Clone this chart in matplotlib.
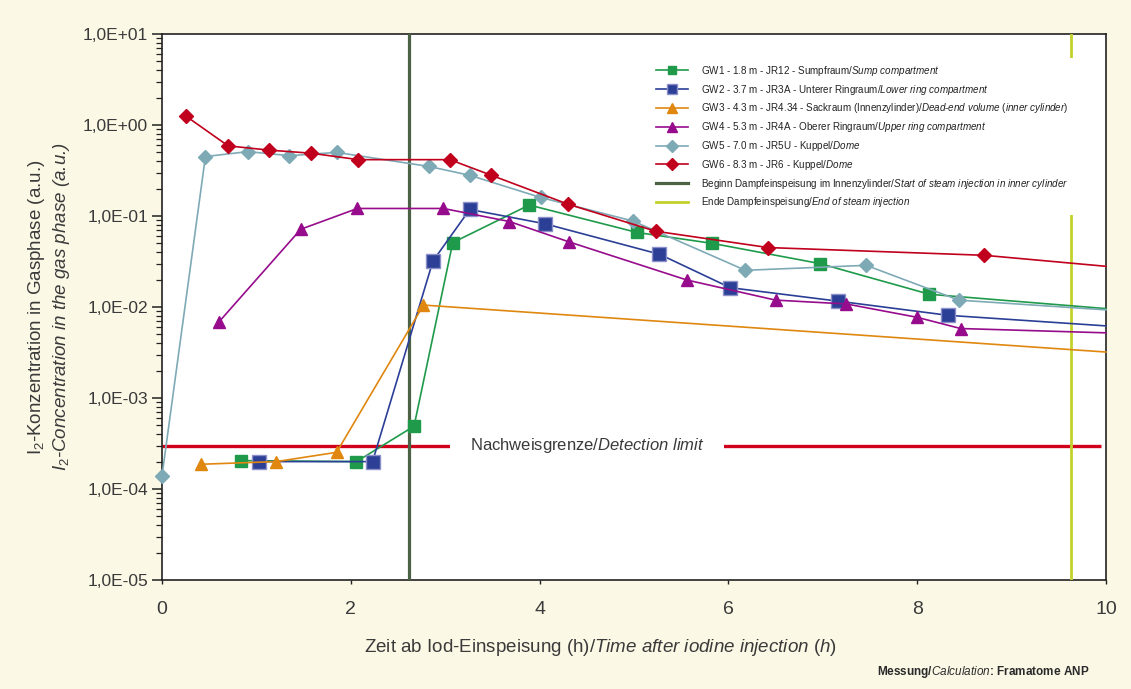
import numpy as np
import matplotlib
matplotlib.use('Agg')
import matplotlib.pyplot as plt
from matplotlib.ticker import LogLocator, FuncFormatter, NullFormatter

plt.rcParams['font.family'] = ['Liberation Sans', 'DejaVu Sans']
plt.rcParams['mathtext.fontset'] = 'custom'
plt.rcParams['mathtext.rm'] = 'Liberation Sans'
plt.rcParams['mathtext.it'] = 'Liberation Sans:italic'

# Messwerte (Zeit in h, Konzentration in a.u.)
t_gw1 = [0.84, 2.06, 2.67, 3.08, 3.89, 5.03, 5.83, 6.97, 8.13, 10.0]
c_gw1 = [2.05e-4, 2.0e-4, 4.9e-4, 0.051, 0.132, 0.066, 0.050, 0.030, 0.0138, 0.0096]

t_gw2 = [1.03, 2.23, 2.87, 3.26, 4.06, 5.27, 6.02, 7.16, 8.33, 10.0]
c_gw2 = [2.0e-4, 2.0e-4, 0.032, 0.118, 0.082, 0.038, 0.0163, 0.0116, 0.0081, 0.0062]

t_gw3 = [0.41, 1.21, 1.85, 2.77, 10.0]
c_gw3 = [1.87e-4, 2.0e-4, 2.53e-4, 0.0105, 0.0032]

t_gw4 = [0.6, 1.47, 2.07, 2.98, 3.68, 4.31, 5.56, 6.50, 7.25, 8.00, 8.46, 10.0]
c_gw4 = [0.0068, 0.0715, 0.121, 0.121, 0.087, 0.052, 0.0198, 0.0119, 0.0108, 0.0077, 0.0058, 0.0052]

t_gw5 = [0.0, 0.46, 0.91, 1.35, 1.85, 2.83, 3.26, 4.01, 4.99, 6.18, 7.46, 8.44, 10.0]
c_gw5 = [1.4e-4, 0.45, 0.51, 0.46, 0.50, 0.35, 0.28, 0.16, 0.088, 0.0253, 0.0287, 0.0119, 0.0093]

t_gw6 = [0.25, 0.70, 1.13, 1.58, 2.08, 3.05, 3.49, 4.30, 5.23, 6.42, 8.71, 10.0]
c_gw6 = [1.26, 0.59, 0.53, 0.49, 0.416, 0.416, 0.28, 0.135, 0.068, 0.045, 0.037, 0.028]

detection_limit = 3.0e-4
t_steam_start = 2.62
t_steam_end = 9.63

labels = [
    'GW1 - 1.8 m - JR12 - Sumpfraum/$\\mathit{Sump\\ compartment}$',
    'GW2 - 3.7 m - JR3A - Unterer Ringraum/$\\mathit{Lower\\ ring\\ compartment}$',
    'GW3 - 4.3 m - JR4.34 - Sackraum (Innenzylinder)/$\\mathit{Dead}$-$\\mathit{end\\ volume\\ (inner\\ cylinder)}$',
    'GW4 - 5.3 m - JR4A - Oberer Ringraum/$\\mathit{Upper\\ ring\\ compartment}$',
    'GW5 - 7.0 m - JR5U - Kuppel/$\\mathit{Dome}$',
    'GW6 - 8.3 m - JR6 - Kuppel/$\\mathit{Dome}$',
    'Beginn Dampfeinspeisung im Innenzylinder/$\\mathit{Start\\ of\\ steam\\ injection\\ in\\ inner\\ cylinder}$',
    'Ende Dampfeinspeisung/$\\mathit{End\\ of\\ steam\\ injection}$',
]

bg = '#fcf8e6'
txt = '#3a3a3a'

fig = plt.figure(figsize=(11.31, 6.89), dpi=100, facecolor=bg)
ax = fig.add_axes([162/1131, 1-580/689, 944/1131, 546/689])
ax.set_facecolor('white')

series = [
    (t_gw1, c_gw1, '#1f9a4a', 's', 8.5, '#1f9a4a'),
    (t_gw2, c_gw2, '#2b3f96', 's', 10, '#8c90c8'),
    (t_gw3, c_gw3, '#e0870f', '^', 9, '#e0870f'),
    (t_gw4, c_gw4, '#960c8c', '^', 9, '#960c8c'),
    (t_gw5, c_gw5, '#7eaab6', 'D', 7.5, '#7eaab6'),
    (t_gw6, c_gw6, '#c0001c', 'D', 7.5, '#c0001c'),
]
handles = []
for (t, c, col, mk, ms, ec), lab in zip(series, labels[:6]):
    # letzter Punkt (Achsenrand) ohne Marker
    h, = ax.plot(t, c, color=col, lw=1.2, marker=mk, ms=ms, mfc=col, mec=ec, mew=1.0,
                 markevery=slice(0, len(t)-1), clip_on=False, zorder=4, label=lab)
    handles.append(h)

h7 = ax.axvline(t_steam_start, color='#4b6344', lw=2.3, zorder=3, label=labels[6])
h8 = ax.axvline(t_steam_end, color='#c3d22b', lw=2.0, zorder=3, label=labels[7])
handles += [h7, h8]

# Nachweisgrenze
ax.hlines(detection_limit, 0, 9.95, color='#d0001a', lw=2.4, zorder=2)
ax.text(4.5, detection_limit, 'Nachweisgrenze/$\\mathit{Detection\\ limit}$', ha='center', va='center',
        fontsize=12, color=txt, zorder=5,
        bbox=dict(facecolor='white', edgecolor='none', pad=14))

ax.set_yscale('log')
ax.set_xlim(0, 10)
ax.set_ylim(1e-5, 10)
ax.set_xticks([0, 2, 4, 6, 8, 10])

def sci_comma(v, pos):
    e = int(np.round(np.log10(v)))
    return '1,0E%+03d' % e

ax.yaxis.set_major_locator(LogLocator(base=10, numticks=10))
ax.yaxis.set_minor_locator(LogLocator(base=10, subs=np.arange(2, 10), numticks=100))
ax.yaxis.set_major_formatter(FuncFormatter(sci_comma))
ax.yaxis.set_minor_formatter(NullFormatter())
ax.tick_params(axis='y', which='major', direction='out', length=7, width=1.1, color='#222222',
               labelsize=12.5, labelcolor=txt, pad=3)
ax.tick_params(axis='y', which='minor', direction='out', length=4, width=0.9, color='#222222')
ax.tick_params(axis='x', which='major', direction='out', length=3, width=1.0, color='#222222',
               labelsize=14, labelcolor=txt, pad=12)
for sp in ax.spines.values():
    sp.set_color('#222222')
    sp.set_linewidth(1.2)

ax.set_xlabel('Zeit ab Iod-Einspeisung (h)/$\\mathit{Time\\ after\\ iodine\\ injection\\ (h)}$',
              fontsize=13.5, color=txt)
ax.xaxis.set_label_coords(0.465, -0.104)

# zweizeilige Y-Beschriftung
fig.text(37/1131, 1-307/689, 'I$_2$-Konzentration in Gasphase (a.u.)', rotation=90,
         ha='center', va='center', fontsize=13.5, color=txt)
fig.text(62/1131, 1-307/689, 'I$_{\\mathit{2}}$-Concentration in the gas phase (a.u.)', rotation=90,
         ha='center', va='center', fontsize=13.5, color=txt, style='italic')

leg = ax.legend(handles=handles, loc='upper left', bbox_to_anchor=((650-162)/944, (580-58)/546),
                fontsize=7.15, frameon=True, facecolor='white', edgecolor='none', framealpha=1,
                fancybox=False, borderaxespad=0, borderpad=0.6, handlelength=3.2,
                handletextpad=1.3, labelspacing=0.48, markerscale=0.75)
for tx in leg.get_texts():
    tx.set_color('#222222')
leg.set_zorder(6)

fig.text(1089/1131, 1-672/689, 'Messung/$\\mathit{Calculation}$: Framatome ANP', ha='right',
         va='center', fontsize=8.5, color='#2a2a2a', fontweight='bold')

fig.savefig('out.png', dpi=100, facecolor=bg)
